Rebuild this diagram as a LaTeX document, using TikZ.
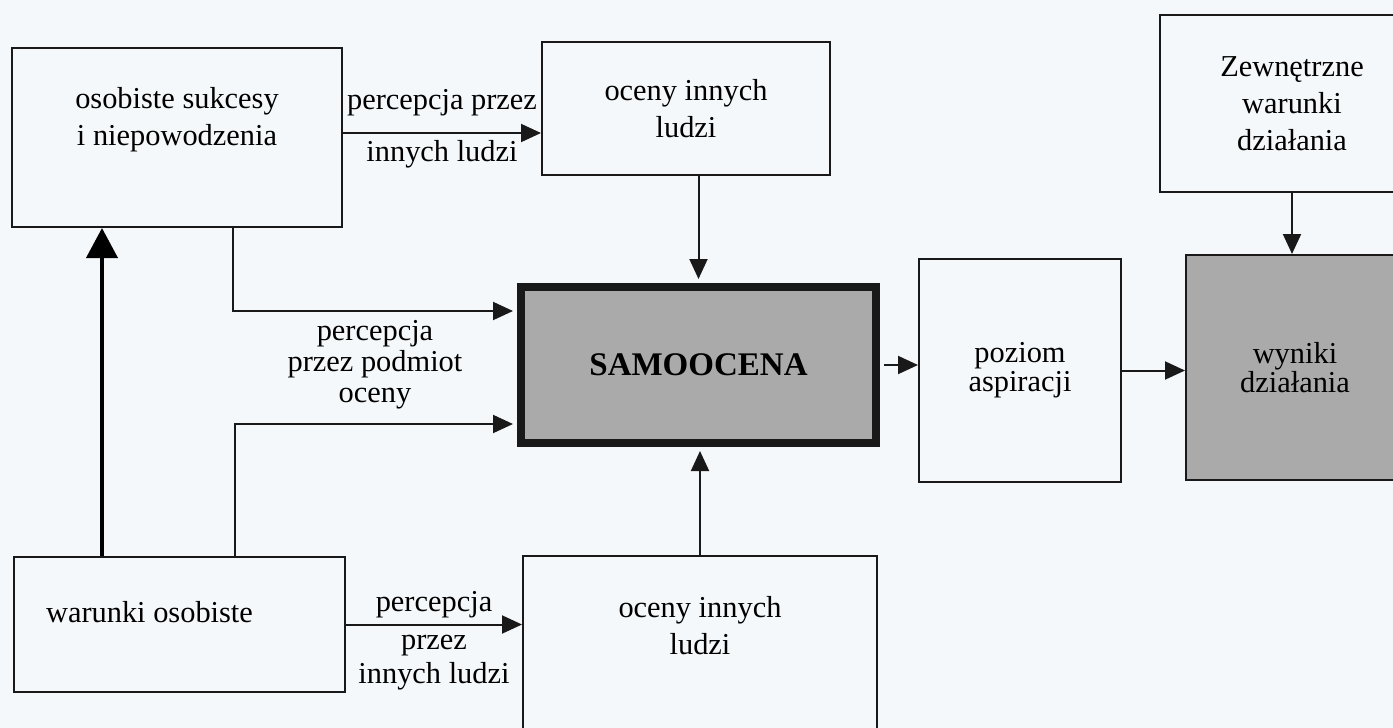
\documentclass[tikz,border=0pt]{standalone}
\usepackage{fontspec}
\setmainfont{Liberation Serif}
\usetikzlibrary{arrows.meta, calc, positioning}

\definecolor{paper}{RGB}{245,248,250}
\definecolor{shade}{RGB}{170,170,170}

\begin{document}
\begin{tikzpicture}[x=0.5pt, y=-0.5pt,
    box/.style={draw=black!90, line width=1pt, fill=paper, align=center, inner sep=0pt,
      font=\fontsize{15.2}{18.5}\selectfont},
    intext/.style={align=center, inner sep=0pt, font=\fontsize{15.2}{18.5}\selectfont},
    lbl/.style={align=center, inner sep=2pt, font=\fontsize{15.2}{15.5}\selectfont},
    arr/.style={draw=black!90, line width=1pt, -{Triangle[length=10pt, width=9pt]}},
    thickarr/.style={draw=black, line width=2pt, -{Triangle[length=15pt, width=15.5pt]}}
  ]
        % Page
        \useasboundingbox (0,0) rectangle (1393,728);
        \fill[paper] (0,0) rectangle (1393,728);
        \clip (0,0) rectangle (1393,728);

        % Boxes
        \node[box, minimum width=165pt, minimum height=89.5pt,
              label={[intext, name=sukcesyt, yshift=9pt]center:osobiste sukcesy\\i niepowodzenia}] (sukcesy) at (177,137.5) {};
        \node[box, minimum width=144pt, minimum height=66.5pt] (ocenyg) at (686,108.5) {oceny innych\\ludzi};
        \node[box, fill=shade, line width=4pt, minimum width=177.5pt, minimum height=78pt,
              font=\bfseries\fontsize{16.5}{20}\selectfont] (samoocena) at (698.5,365) {SAMOOCENA};
        \node[box, minimum width=165.5pt, minimum height=67.5pt,
              label={[intext, name=warunkit, xshift=-15pt, yshift=6pt]center:warunki osobiste}] (warunki) at (179.5,624.5) {};
        \node[box, minimum width=177pt, minimum height=107pt,
              label={[intext, name=ocenydt, yshift=18.5pt]center:oceny innych\\ludzi}] (ocenyd) at (700,663) {};
        \node[box, minimum width=101pt, minimum height=111.5pt,
              font=\fontsize{15.2}{14.5}\selectfont] (aspiracja) at (1020,370.5) {poziom\\aspiracji};
        \node[box, fill=shade, minimum width=109pt, minimum height=112.5pt,
              font=\fontsize{15.2}{14.5}\selectfont] (wyniki) at (1295,367.5) {wyniki\\działania};
        \node[box, minimum width=132pt, minimum height=88.5pt] (zewn) at (1292,103.5) {Zewnętrzne\\warunki\\działania};

        % Bends
        \coordinate (k0) at ($(sukcesy.east)+(0,-4.5)$);
        \coordinate (k1) at (233,311);
        \coordinate (k2) at (235,424);
        \coordinate (k3) at (102,400);

        % Connectors
        \draw[arr] (k0) -- (k0 -| ocenyg.west)
            node[lbl, midway, above=6pt] {percepcja przez}
            node[lbl, midway, below=1pt] {innych ludzi};
        \draw[arr, shorten >=2pt] (samoocena.north |- ocenyg.south) -- (samoocena.north);
        \draw[arr, shorten >=2pt] (k1 |- sukcesy.south) -- (k1) -- (k1 -| samoocena.west)
            node[lbl, midway, below=2pt] {percepcja\\przez podmiot\\oceny};
        \draw[arr, shorten >=2pt] (k2 |- warunki.north) -- (k2) -- (k2 -| samoocena.west);
        \draw[thickarr] (k3 |- warunki.north) -- (k3 |- sukcesy.south);
        \draw[arr] (warunki.east) -- (warunki.east -| ocenyd.west)
            node[lbl, midway, above=1pt] {percepcja}
            node[lbl, midway, below=3pt, font=\fontsize{15.2}{17}\selectfont] {przez\\innych ludzi};
        \draw[arr, shorten >=2pt] (ocenyd.north) -- (ocenyd.north |- samoocena.south);
        \draw[arr, shorten <=2pt] (samoocena.east) -- (samoocena.east -| aspiracja.west);
        \draw[arr] (aspiracja.east) -- (aspiracja.east -| wyniki.west);
        \draw[arr] (zewn.south) -- (zewn.south |- wyniki.north);
\end{tikzpicture}
\end{document}
